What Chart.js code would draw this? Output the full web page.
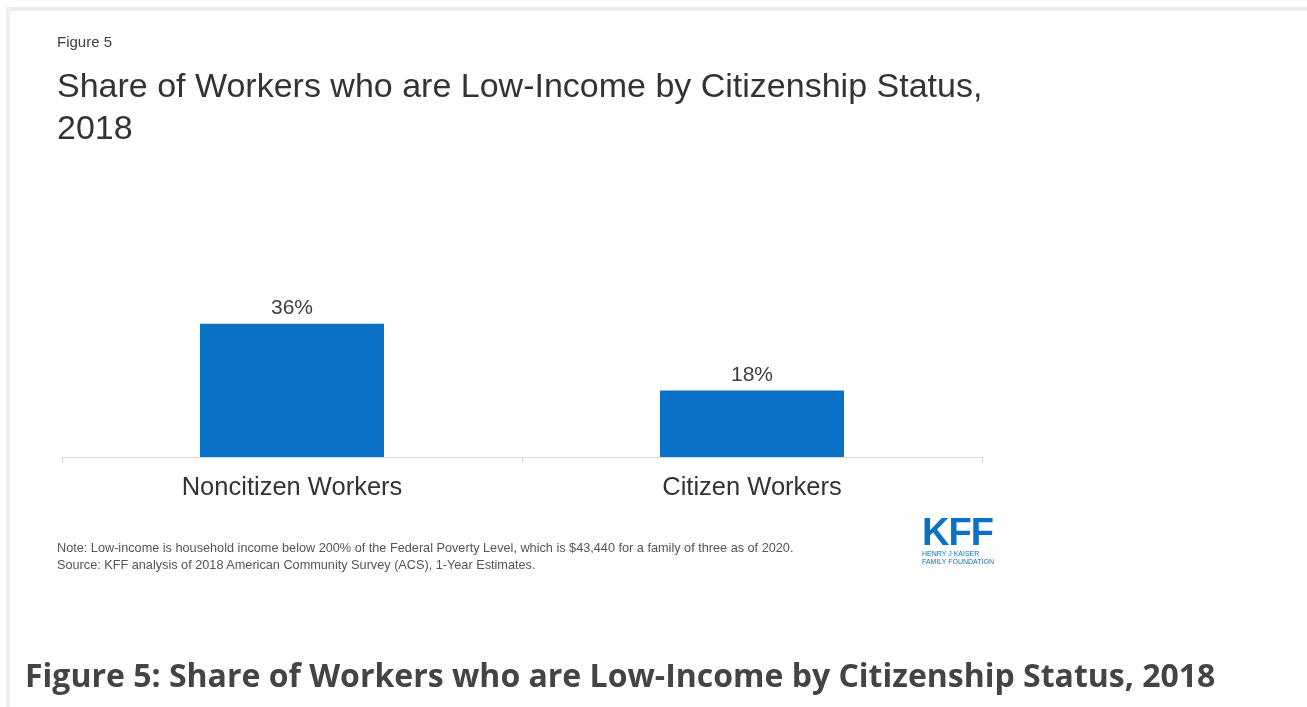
<!DOCTYPE html>
<html>
<head>
<meta charset="utf-8">
<script src="https://cdn.jsdelivr.net/npm/chart.js@4/dist/chart.umd.min.js"></script>
<style>
  html, body { margin: 0; padding: 0; background: #fff; }
  body { width: 1307px; height: 707px; position: relative; overflow: hidden; }
  .frame-top { position: absolute; left: 6px; top: 7px; width: 1301px; height: 4px; background: #e9ecee; }
  .frame-left { position: absolute; left: 6px; top: 7px; width: 4px; height: 700px; background: #eef0f2; }
  #chart { position: absolute; left: 0; top: 0; }
  .txt { position: absolute; white-space: nowrap; font-family: "Liberation Sans", Arial, sans-serif; }
  #fig { left: 57px; top: 33px; font-size: 15px; color: #404040; }
  #title { left: 57px; top: 64px; font-size: 34px; line-height: 42px; color: #333; }
  #note { left: 57px; top: 539px; font-size: 13.5px; line-height: 17px; color: #555;
          transform: scaleX(0.94); transform-origin: 0 0; }
  #logo { left: 922px; top: 514px; color: #0a72c6; }
  #logo .big { font-weight: bold; font-size: 38px; line-height: 36px; letter-spacing: -1px; }
  #logo .small { font-size: 7px; line-height: 8px; }
  #caption { left: 25px; top: 653px; font-family: "Open Sans", sans-serif; font-weight: bold;
             font-size: 32px; color: #444; }
</style>
</head>
<body>
<div class="frame-top"></div>
<div class="frame-left"></div>
<canvas id="chart" width="1307" height="707"></canvas>

<div class="txt" id="fig">Figure 5</div>
<div class="txt" id="title">Share of Workers who are Low-Income by Citizenship Status,<br>2018</div>
<div class="txt" id="note">Note: Low-income is household income below 200% of the Federal Poverty Level, which is $43,440 for a family of three as of 2020.<br>Source: KFF analysis of 2018 American Community Survey (ACS), 1-Year Estimates.</div>
<div class="txt" id="logo"><div class="big">KFF</div><div class="small">HENRY J KAISER<br>FAMILY FOUNDATION</div></div>
<div class="txt" id="caption">Figure 5: Share of Workers who are Low-Income by Citizenship Status, 2018</div>

<script>
const categories = ['Noncitizen Workers', 'Citizen Workers'];
const lowIncomeShare = [36, 18];

// value labels above each bar
const barLabels = {
  id: 'barLabels',
  afterDatasetsDraw(chart) {
    const ctx = chart.ctx;
    const meta = chart.getDatasetMeta(0);
    ctx.save();
    ctx.font = '21px "Liberation Sans", Arial, sans-serif';
    ctx.fillStyle = '#404040';
    ctx.textAlign = 'center';
    ctx.textBaseline = 'bottom';
    meta.data.forEach((bar, i) => {
      ctx.fillText(lowIncomeShare[i] + '%', bar.x, bar.y - 5);
    });
    ctx.restore();
  }
};

new Chart(document.getElementById('chart'), {
  type: 'bar',
  data: {
    labels: categories,
    datasets: [{
      data: lowIncomeShare,
      backgroundColor: '#0a72c6',
      categoryPercentage: 0.4,
      barPercentage: 1
    }]
  },
  options: {
    responsive: false,
    animation: false,
    layout: { padding: { left: 62, right: 325, top: 272, bottom: 0 } },
    plugins: { legend: { display: false }, tooltip: { enabled: false } },
    scales: {
      y: { display: false, min: 0, max: 50 },
      x: {
        afterFit(scale) { scale.height = 250; },
        grid: { drawOnChartArea: false, tickLength: 6, color: '#d9d9d9' },
        border: { color: '#d9d9d9' },
        ticks: {
          color: '#333',
          padding: 10,
          font: { family: '"Liberation Sans", Arial, sans-serif', size: 25.5 }
        }
      }
    }
  },
  plugins: [barLabels]
});
</script>
</body>
</html>
